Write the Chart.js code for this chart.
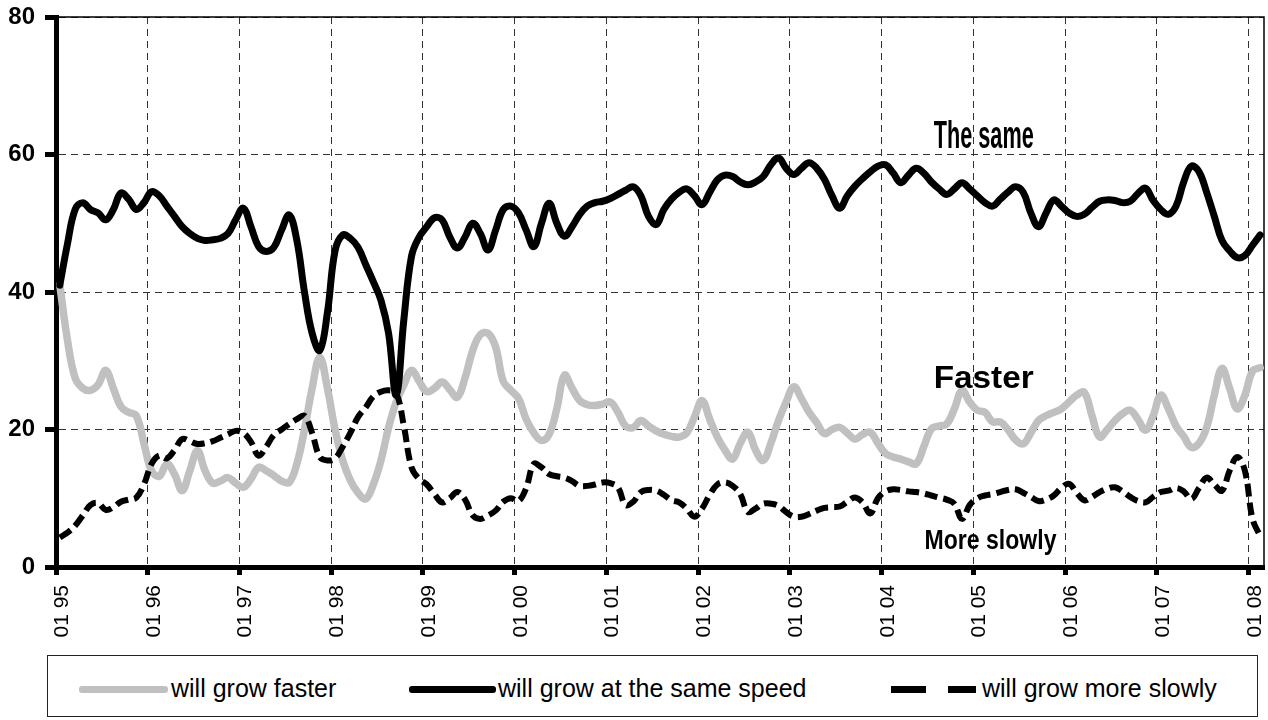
<!DOCTYPE html>
<html>
<head>
<meta charset="utf-8">
<title>Expectations</title>
<script src="https://cdn.jsdelivr.net/npm/chart.js@4/dist/chart.umd.min.js"></script>
<style>
  html, body { margin:0; padding:0; background:#fff; }
  #wrap { position:relative; width:1268px; height:720px; font-family:Arial, "Liberation Sans", sans-serif; }
  #chart { position:absolute; left:0; top:0; }
  #legend { position:absolute; left:47px; top:655px; width:1211px; height:62px; border:1px solid #222; box-sizing:border-box; }
  #legend .sw { position:absolute; top:30px; height:7px; border-radius:3px; }
  #legend .tx { position:absolute; top:17px; font-size:25px; line-height:30px; color:#000; white-space:nowrap; }
</style>
</head>
<body>
<div id="wrap">
  <canvas id="chart" width="1268" height="650"></canvas>
  <div id="legend">
    <span class="sw" style="left:31px;width:89px;background:#c0c0c0"></span>
    <span class="tx" style="left:123px">will grow faster</span>
    <span class="sw" style="left:361px;width:87px;background:#000"></span>
    <span class="tx" style="left:450px">will grow at the same speed</span>
    <span class="sw" style="left:843px;width:35px;background:#000;border-radius:0"></span>
    <span class="sw" style="left:900px;width:28px;background:#000;border-radius:0"></span>
    <span class="tx" style="left:934px">will grow more slowly</span>
  </div>
</div>
<script>
// monthly survey shares, Jan 1995 .. Feb 2008 (158 months)
const xLabels = ['01 95','01 96','01 97','01 98','01 99','01 00','01 01','01 02','01 03','01 04','01 05','01 06','01 07','01 08'];
const yTicks = [0, 20, 40, 60, 80];

const same = [41,47,52,53,52,51.5,50.5,52,54.4,53.5,
  52,53,54.6,54,52.5,51,49.5,48.5,47.8,47.5,
  47.6,47.8,48.5,50.5,52.2,49.5,46.6,45.9,46.5,49,
  51.2,47.5,40,34,31.5,37,46,48.3,47.8,46.5,
  44,41.5,38.8,34,25,36,45.2,48,49.5,50.8,
  50.5,48,46.4,48,50,48.5,46.1,49,52,52.5,
  51.5,49,46.6,50,52.9,50,48.1,49.5,51.3,52.5,
  53,53.2,53.6,54.2,54.8,55.3,54,51,49.8,52,
  53.5,54.5,55,54,52.7,54.5,56.3,57,56.8,56,
  55.6,56,56.8,58.5,59.5,58,57.1,58,58.8,58,
  56.4,54,52.2,54,55.4,56.5,57.5,58.3,58.5,57.3,
  55.9,57,58,57.3,56,55,54.2,55,55.9,55,
  54,53,52.5,53.5,54.5,55.3,54.5,51.5,49.5,51.5,
  53.4,52.5,51.5,51,51.3,52.3,53.2,53.4,53.3,53,
  53.2,54.3,55.1,53.3,52,51.3,52.5,56,58.3,57.5,
  54.5,51,47.5,46,45,45.3,46.8,48.3];

const faster = [41,33,27.5,26,25.7,26.5,28.6,26,23.3,22.5,
  22,18,14,13.2,15,13.5,11.1,14,16.9,14,
  12.2,12.5,13,12.2,11.6,12.8,14.5,14,13.3,12.5,
  12.3,15,20,26,30.5,26,20,15.5,12.6,10.8,
  9.9,12,15.5,20.3,24,26.5,28.6,27,25.5,26,
  26.9,25.8,24.7,27.5,31.5,33.8,34,32,27,25.7,
  24.5,21.5,19.5,18.4,19.3,23,27.9,26,24.2,23.6,
  23.5,23.7,24,22.5,20.5,20.3,21.3,20.5,19.8,19.3,
  19,18.9,19.5,21.8,24.2,21.5,18.9,17,15.7,18,
  19.6,17,15.5,18,21.3,24,26.2,24.5,22.5,21,
  19.4,20,20.3,19.5,18.6,19.3,19.6,18,16.5,16,
  15.7,15.3,15,17.5,20.1,20.5,20.8,23,25.7,24,
  22.8,22.5,21.1,21.1,20,18.5,17.9,19.5,21.3,22,
  22.5,23,24,25,25.4,22,18.9,20,21.3,22.3,
  22.8,21.5,19.9,22,25,23,20.5,19,17.4,18,
  20.3,25,28.9,26,23,25,28.5,29];

const slower = [4.3,5,6,7.5,9,9.3,8.3,8.7,9.5,9.8,
  10.1,12,15,16.2,15.8,17,18.6,18.3,17.9,18,
  18.3,18.8,19.3,19.8,19.5,18.2,16.2,17.5,19.2,20,
  20.8,21.5,22,19.5,16,15.5,15.8,17.5,19.5,21.8,
  23.2,24.8,25.5,25.7,25.3,20.5,14.5,12.8,12,10.6,
  9.4,10,10.9,9.8,7.5,7,7.5,8.2,9.5,10,
  9.6,11.5,15,14.5,13.5,13.2,13,12.5,11.8,11.8,
  12,12.3,12.2,11.6,9,9.5,10.9,11.2,11.1,10.5,
  9.7,9.4,8.5,7.3,8.5,10.5,12,12.3,11.8,10.6,
  8,8.5,9.2,9.2,8.9,8,7.3,7.3,7.7,8.2,
  8.6,8.7,8.8,9.5,10.1,9.4,7.8,10,11,11.3,
  11.2,11,10.9,10.7,10.4,10.1,9.8,9.2,7,9,
  10,10.4,10.6,10.9,11.2,11.3,10.8,10.2,9.6,9.8,
  10.4,11.5,12.1,10.8,9.7,10.2,10.9,11.4,11.6,11,
  10.2,9.6,9.4,10.2,10.9,11.1,11.5,11,9.9,11.5,
  13,12,11.1,14,16,14,7,4.5];

// in-chart labels (x in months, y in %)
const notes = [
  { text:'The same',    x:114.8, y:61.0, width:100, font:'bold 38px Arial, "Liberation Sans", sans-serif' },
  { text:'Faster',      x:114.8, y:26.1, width:100, font:'bold 32px Arial, "Liberation Sans", sans-serif' },
  { text:'More slowly', x:113.6, y:2.6,  width:132, font:'bold 28px Arial, "Liberation Sans", sans-serif' }
];

const pts = arr => arr.map((v, i) => ({ x: i + 0.5, y: v }));

const framePlugin = {
  id: 'frame',
  beforeDatasetsDraw(chart) {
    const { ctx, chartArea: a } = chart;
    ctx.save();
    ctx.strokeStyle = '#000';
    ctx.lineWidth = 1.5;
    ctx.beginPath();
    ctx.moveTo(a.left, a.top); ctx.lineTo(a.right, a.top); ctx.lineTo(a.right, a.bottom);
    ctx.stroke();
    ctx.restore();
  }
};

const notesPlugin = {
  id: 'notes',
  afterDatasetsDraw(chart) {
    const { ctx, scales } = chart;
    ctx.save();
    ctx.fillStyle = '#000';
    ctx.textBaseline = 'alphabetic';
    ctx.textAlign = 'left';
    notes.forEach(n => {
      const px = scales.x.getPixelForValue(n.x);
      const py = scales.y.getPixelForValue(n.y);
      ctx.font = n.font;
      const w = ctx.measureText(n.text).width;
      ctx.save();
      ctx.translate(px, py);
      ctx.scale(n.width / w, 1);
      ctx.fillText(n.text, 0, 0);
      ctx.restore();
    });
    ctx.restore();
  }
};

const gridDash = [7, 5];

new Chart(document.getElementById('chart'), {
  type: 'line',
  data: {
    datasets: [
      { label:'will grow faster', data: pts(faster), borderColor:'#c0c0c0', borderWidth:7.5, order:2 },
      { label:'will grow at the same speed', data: pts(same), borderColor:'#000', borderWidth:7, order:0 },
      { label:'will grow more slowly', data: pts(slower), borderColor:'#000', borderWidth:6, borderDash:[13,6], borderCapStyle:'butt', order:1 }
    ]
  },
  options: {
    responsive: false,
    animation: false,
    devicePixelRatio: 1,
    layout: { padding: { top:17, right:4, left:0, bottom:0 } },
    elements: {
      point: { radius: 0 },
      line: { tension: 0.4, borderJoinStyle: 'round', borderCapStyle: 'round', fill: false }
    },
    plugins: { legend: { display:false }, tooltip: { enabled:false } },
    scales: {
      x: {
        type: 'linear', min: 0, max: 158,
        afterBuildTicks: s => { s.ticks = xLabels.map((_, i) => ({ value: i * 12 })); },
        afterFit: s => { s.height = 83; s.paddingRight = 0; s.paddingLeft = 0; },
        ticks: {
          autoSkip: false, maxRotation: 90, minRotation: 90, padding: 10, labelOffset: 6,
          color: '#000', font: { family: 'Arial, "Liberation Sans", sans-serif', size: 21 },
          callback: v => xLabels[Math.round(v / 12)]
        },
        grid: { color:'#333', lineWidth:1, tickColor:'#000', tickWidth:5, tickLength:8, tickBorderDash:[] },
        border: { display:true, width:5, color:'#000', dash:gridDash }
      },
      y: {
        min: 0, max: 80,
        afterBuildTicks: s => { s.ticks = yTicks.map(v => ({ value: v })); },
        afterFit: s => { s.width = 56; s.paddingTop = 0; s.paddingBottom = 0; },
        ticks: {
          padding: 10, color: '#000',
          font: { family: 'Arial, "Liberation Sans", sans-serif', size: 24, weight: 'bold' }
        },
        grid: { color:'#333', lineWidth:1, tickColor:'#000', tickWidth:5, tickLength:11, tickBorderDash:[] },
        border: { display:true, width:5, color:'#000', dash:gridDash }
      }
    }
  },
  plugins: [framePlugin, notesPlugin]
});
</script>
</body>
</html>
